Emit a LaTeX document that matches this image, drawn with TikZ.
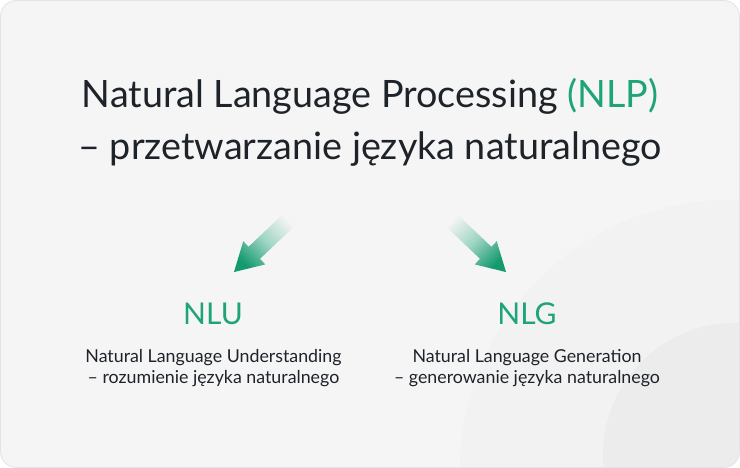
\documentclass[tikz,border=0pt]{standalone}
\usepackage{fontspec}
\setmainfont{Lato}
\definecolor{bgc}{HTML}{F5F5F5}
\definecolor{bordc}{HTML}{E4E4E4}
\definecolor{blobA}{HTML}{F2F2F2}
\definecolor{blobB}{HTML}{ECECEC}
\definecolor{ink}{HTML}{1E2329}
\definecolor{grn}{HTML}{1FA47A}
\definecolor{grndark}{HTML}{159A6F}
\tikzset{
  titletext/.style={inner sep=0pt, anchor=base, text=ink, font=\fontsize{37.7}{45}\selectfont},
  headtext/.style={inner sep=0pt, anchor=base, text=grn, font=\fontsize{30}{36}\selectfont},
  subtext/.style={inner sep=0pt, anchor=base, text=ink, font=\fontsize{17.8}{21}\selectfont},
  fadearrow/.style={top color=bgc, bottom color=grndark, middle color=grn!40!bgc, shading angle=#1}
}
\begin{document}
\begin{tikzpicture}[x=1pt,y=1pt]
\useasboundingbox (0,0) rectangle (740,-468);
\fill[white] (0,0) rectangle (740,-468);
\begin{scope}
  \clip[rounded corners=16pt] (0.5,-0.5) rectangle (739.5,-467.5);
  \fill[bgc] (0,0) rectangle (740,-468);
  \fill[blobA] (730,-470) circle[radius=270];
  \fill[blobB] (735,-455) circle[radius=132];
\end{scope}
\draw[bordc, line width=0.8pt, rounded corners=16pt] (0.5,-0.5) rectangle (739.5,-467.5);

\node[titletext] (t1) at (370,-107.3) {Natural Language Processing \textcolor{grn}{(NLP)}};
\node[titletext] (t2) at (370,-160) {– przetwarzanie języka naturalnego};

\coordinate (la) at (292,-217);
\coordinate (ra) at (448,-217);
\begin{scope}[shift={(la)}, rotate=223.5]
  \shade[fadearrow=-45] (0,8.3) -- (52,8.3) -- (52,16) -- (80,0) -- (52,-16) -- (52,-8.3) -- (0,-8.3) -- cycle;
\end{scope}
\begin{scope}[shift={(ra)}, rotate=-43.5]
  \shade[fadearrow=45] (0,8.3) -- (52,8.3) -- (52,16) -- (80,0) -- (52,-16) -- (52,-8.3) -- (0,-8.3) -- cycle;
\end{scope}

\node[headtext] (nlu) at (213,-324) {NLU};
\node[headtext] (nlg) at (527,-324) {NLG};
\node[subtext] (nlu1) at (213.5,-362.7) {Natural Language Understanding};
\node[subtext] (nlu2) at (213.5,-383.5) {– rozumienie języka naturalnego};
\node[subtext] (nlg1) at (527,-362.7) {Natural Language Generation};
\node[subtext] (nlg2) at (527,-383.5) {– generowanie języka naturalnego};
\end{tikzpicture}
\end{document}
